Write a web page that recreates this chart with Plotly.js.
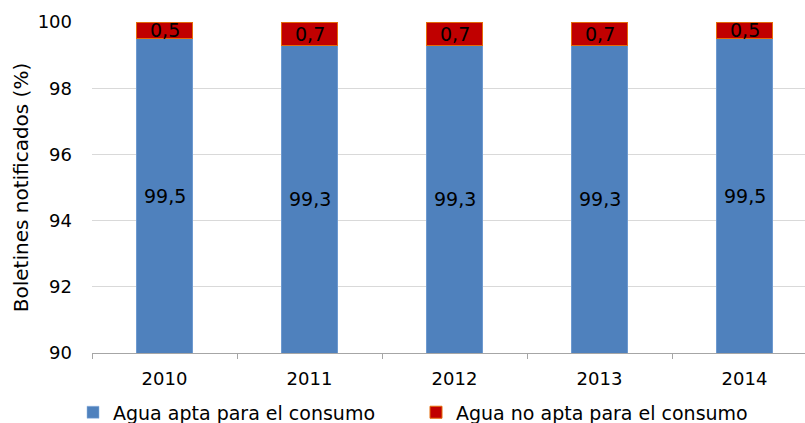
<!DOCTYPE html>
<html>
<head>
<meta charset="utf-8">
<script src="https://cdn.plot.ly/plotly-3.0.1.min.js"></script>
<style>html,body{margin:0;padding:0;background:#fff}#chart{width:805px;height:423px}</style>
</head>
<body>
<div id="chart"></div>
<script>
const years = ['2010', '2011', '2012', '2013', '2014'];
const apta = [99.5, 99.3, 99.3, 99.3, 99.5];
const noApta = [0.5, 0.7, 0.7, 0.7, 0.5];
const seriesNames = ['Agua apta para el consumo', 'Agua no apta para el consumo'];
const yTicks = [90, 92, 94, 96, 98, 100];
const yMin = 90, yMax = 100;

const fmt = v => v.toFixed(1).replace('.', ',');
const FONT = 'DejaVu Sans, Verdana, sans-serif';

const traces = [
  {
    type: 'bar', name: seriesNames[0], x: years, y: apta, width: 0.39,
    marker: {color: '#4F81BD', line: {color: '#8EB4E3', width: 0.5}},
    hoverinfo: 'skip'
  },
  {
    type: 'bar', name: seriesNames[1], x: years, y: noApta, width: 0.39,
    marker: {color: '#C00000', line: {color: '#E46C0A', width: 1}},
    hoverinfo: 'skip'
  }
];

const annotations = [];
years.forEach((yr, i) => {
  annotations.push({x: i, y: (yMin + apta[i]) / 2, text: fmt(apta[i]), showarrow: false,
    font: {family: FONT, size: 19, color: '#000'}, xref: 'x', yref: 'y'});
  annotations.push({x: i, y: apta[i] + noApta[i] / 2, text: fmt(noApta[i]), showarrow: false,
    font: {family: FONT, size: 19, color: '#000'}, xref: 'x', yref: 'y'});
});

const layout = {
  width: 805, height: 423,
  margin: {l: 92, r: 0, t: 22, b: 70},
  paper_bgcolor: '#fff', plot_bgcolor: '#fff',
  barmode: 'stack',
  font: {family: FONT, size: 18, color: '#000'},
  showlegend: true,
  legend: {orientation: 'h', xref: 'container', x: 0.0907, xanchor: 'left',
    yref: 'container', y: 0.07, yanchor: 'top',
    font: {family: FONT, size: 19, color: '#000'}, entrywidth: 298, itemclick: false,
    tracegroupgap: 0, traceorder: 'normal'},
  xaxis: {
    type: 'category', range: [-0.5, 4.417], tickson: 'boundaries',
    ticks: 'outside', ticklen: 5, tickcolor: '#A6A6A6',
    showline: true, linecolor: '#A6A6A6', linewidth: 1,
    showgrid: false, ticklabelstandoff: 9,
    tickfont: {family: FONT, size: 18}
  },
  yaxis: {
    range: [yMin, yMax], tickvals: yTicks, ticktext: yTicks.map(String),
    showgrid: true, gridcolor: '#D9D9D9', gridwidth: 1,
    zeroline: false, showline: false, ticks: '', ticklabelstandoff: 19,
    tickfont: {family: FONT, size: 18},
    title: {text: 'Boletines notificados (%)', font: {family: FONT, size: 20}, standoff: 3}
  },
  annotations: annotations
};

Plotly.newPlot('chart', traces, layout, {displayModeBar: false, staticPlot: true});
</script>
</body>
</html>
